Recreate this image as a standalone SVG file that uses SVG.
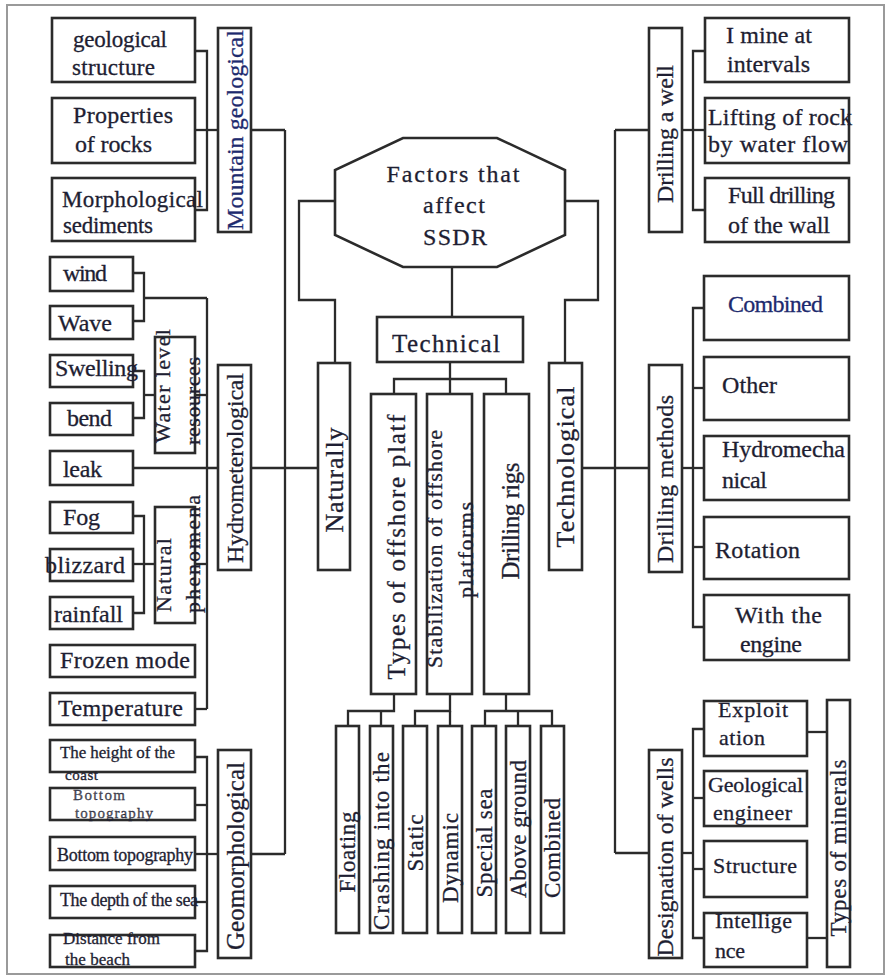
<svg xmlns="http://www.w3.org/2000/svg" width="890" height="979" viewBox="0 0 890 979">
<style>
  .frame { fill: #ffffff; stroke: #9a9a9a; stroke-width: 2; }
  .box { fill: #ffffff; stroke: #2b2b2b; stroke-width: 2.6; }
  .oct { fill: #ffffff; stroke: #2b2b2b; stroke-width: 2.6; }
  .ln { fill: none; stroke: #2b2b2b; stroke-width: 2.3; }
  text { font-family: "Liberation Serif", "Times New Roman", serif; fill: #1e1e32; stroke: #1e1e32; stroke-width: 0.3; }
  .v { text-anchor: middle; dominant-baseline: central; }
  .blue { fill: #1d2a6e; stroke: #1d2a6e; }
</style>

<!-- page frame -->
<rect class="frame" x="7" y="5" width="877" height="969"/>

<!-- connectors -->
<g id="connectors">
  <!-- root to the three main branches -->
  <polyline class="ln" points="335,201 299,201 299,300 335,300 335,363"/>
  <polyline class="ln" points="565,201 598,201 598,300 565,300 565,363"/>
  <line class="ln" x1="452" y1="267" x2="452" y2="317"/>

  <!-- Naturally: left trunk -->
  <line class="ln" x1="285" y1="130" x2="285" y2="854"/>
  <line class="ln" x1="251" y1="130" x2="285" y2="130"/>
  <line class="ln" x1="251" y1="854" x2="285" y2="854"/>
  <line class="ln" x1="251" y1="468" x2="318" y2="468"/>
  <line class="ln" x1="133" y1="468" x2="218" y2="468"/>

  <!-- Mountain geological bracket -->
  <polyline class="ln" points="195,51 207,51 207,210 195,210"/>
  <line class="ln" x1="195" y1="130" x2="218" y2="130"/>

  <!-- Hydrometerological bracket -->
  <polyline class="ln" points="133,273 144,273 144,321 133,321"/>
  <line class="ln" x1="144" y1="298" x2="207" y2="298"/>
  <polyline class="ln" points="133,371 144,371 144,418 133,418"/>
  <line class="ln" x1="144" y1="395" x2="155" y2="395"/>
  <line class="ln" x1="195" y1="395" x2="207" y2="395"/>
  <polyline class="ln" points="133,516 144,516 144,613 133,613"/>
  <line class="ln" x1="133" y1="564" x2="155" y2="564"/>
  <line class="ln" x1="195" y1="564" x2="207" y2="564"/>
  <line class="ln" x1="207" y1="298" x2="207" y2="709"/>
  <line class="ln" x1="195" y1="709" x2="207" y2="709"/>

  <!-- Geomorphological bracket -->
  <polyline class="ln" points="195,757 207,757 207,951 195,951"/>
  <line class="ln" x1="195" y1="805" x2="207" y2="805"/>
  <line class="ln" x1="195" y1="854" x2="218" y2="854"/>
  <line class="ln" x1="195" y1="902" x2="207" y2="902"/>

  <!-- Technical subtree -->
  <line class="ln" x1="450" y1="362" x2="450" y2="379"/>
  <polyline class="ln" points="394,394 394,379 506,379 506,394"/>
  <line class="ln" x1="450" y1="379" x2="450" y2="394"/>
  <polyline class="ln" points="348,726 348,711 394,711 394,694"/>
  <line class="ln" x1="381" y1="711" x2="381" y2="726"/>
  <polyline class="ln" points="415,726 415,711 450,711 450,694"/>
  <line class="ln" x1="450" y1="711" x2="450" y2="726"/>
  <polyline class="ln" points="485,726 485,711 552,711 552,726"/>
  <line class="ln" x1="518" y1="711" x2="518" y2="726"/>
  <line class="ln" x1="506" y1="694" x2="506" y2="711"/>

  <!-- Technological: right trunk -->
  <line class="ln" x1="615" y1="130" x2="615" y2="853"/>
  <line class="ln" x1="615" y1="130" x2="649" y2="130"/>
  <line class="ln" x1="582" y1="468" x2="649" y2="468"/>
  <line class="ln" x1="615" y1="853" x2="649" y2="853"/>

  <!-- Drilling a well bracket -->
  <polyline class="ln" points="705,51 693,51 693,210 705,210"/>
  <line class="ln" x1="682" y1="130" x2="705" y2="130"/>

  <!-- Drilling methods bracket -->
  <polyline class="ln" points="704,308 693,308 693,627 704,627"/>
  <line class="ln" x1="693" y1="388" x2="704" y2="388"/>
  <line class="ln" x1="682" y1="468" x2="704" y2="468"/>
  <line class="ln" x1="693" y1="547" x2="704" y2="547"/>

  <!-- Designation of wells bracket -->
  <polyline class="ln" points="704,729 693,729 693,938 704,938"/>
  <line class="ln" x1="693" y1="798" x2="704" y2="798"/>
  <line class="ln" x1="693" y1="869" x2="704" y2="869"/>
  <line class="ln" x1="682" y1="853" x2="693" y2="853"/>
  <line class="ln" x1="807" y1="732" x2="827" y2="732"/>
  <line class="ln" x1="807" y1="938" x2="827" y2="938"/>
</g>

<!-- root -->
<g id="root">
  <polygon class="oct" points="403,138 497,138 565,170 565,235 497,267 403,267 335,235 335,170"/>
  <text font-size="24" x="453" y="182" text-anchor="middle" textLength="133" lengthAdjust="spacing">Factors that</text>
  <text font-size="24" x="454" y="213" text-anchor="middle" textLength="62" lengthAdjust="spacing">affect</text>
  <text font-size="24" x="455" y="245" text-anchor="middle" textLength="64" lengthAdjust="spacing">SSDR</text>
</g>

<!-- main branches -->
<g id="naturally">
  <rect class="box" x="318" y="363" width="32" height="207"/>
  <text font-size="26" class="v" transform="translate(334,480) rotate(-90)" textLength="105" lengthAdjust="spacing">Naturally</text>
</g>
<g id="technical">
  <rect class="box" x="377" y="317" width="146" height="45"/>
  <text font-size="25" x="392" y="352" textLength="108" lengthAdjust="spacing">Technical</text>
</g>
<g id="technological">
  <rect class="box" x="549" y="363" width="33" height="207"/>
  <text font-size="26" class="v" transform="translate(565,467) rotate(-90)" textLength="161" lengthAdjust="spacing">Technological</text>
</g>

<!-- Naturally: Mountain geological -->
<g id="mountain-geological">
  <rect class="box" x="218" y="28" width="33" height="204"/>
  <text font-size="24" class="v blue" transform="translate(235,130) rotate(-90)" textLength="200" lengthAdjust="spacing">Mountain geological</text>
</g>
<g id="geological-structure">
  <rect class="box" x="52" y="18" width="143" height="64"/>
  <text font-size="23" x="73" y="47" textLength="94" lengthAdjust="spacing">geological</text>
  <text font-size="23" x="72" y="75" textLength="83" lengthAdjust="spacing">structure</text>
</g>
<g id="properties-of-rocks">
  <rect class="box" x="52" y="98" width="143" height="65"/>
  <text font-size="24" x="73" y="123" textLength="100" lengthAdjust="spacing">Properties</text>
  <text font-size="24" x="75" y="152" textLength="77" lengthAdjust="spacing">of rocks</text>
</g>
<g id="morphological-sediments">
  <rect class="box" x="52" y="178" width="143" height="63"/>
  <text font-size="23" x="62" y="207" textLength="141" lengthAdjust="spacing">Morphological</text>
  <text font-size="23" x="63" y="233" textLength="90" lengthAdjust="spacing">sediments</text>
</g>

<!-- Naturally: Hydrometerological -->
<g id="hydrometerological">
  <rect class="box" x="218" y="365" width="33" height="205"/>
  <text font-size="24" class="v" transform="translate(235,468) rotate(-90)" textLength="190" lengthAdjust="spacing">Hydrometerological</text>
</g>
<g id="wind">
  <rect class="box" x="50" y="257" width="83" height="34"/>
  <text font-size="24" x="63" y="281" textLength="44" lengthAdjust="spacing">wind</text>
</g>
<g id="wave">
  <rect class="box" x="50" y="306" width="83" height="33"/>
  <text font-size="24" x="58" y="331" textLength="54" lengthAdjust="spacing">Wave</text>
</g>
<g id="swelling">
  <rect class="box" x="50" y="355" width="83" height="32"/>
  <text font-size="24" x="55" y="376" textLength="83" lengthAdjust="spacing">Swelling</text>
</g>
<g id="bend">
  <rect class="box" x="50" y="403" width="83" height="32"/>
  <text font-size="24" x="67" y="426" textLength="45" lengthAdjust="spacing">bend</text>
</g>
<g id="water-level-resources">
  <rect class="box" x="155" y="337" width="40" height="116"/>
  <text font-size="22" class="v" transform="translate(162,386) rotate(-90)" textLength="114" lengthAdjust="spacing">Water level</text>
  <text font-size="22" class="v" transform="translate(192,401) rotate(-90)" textLength="88" lengthAdjust="spacing">resources</text>
</g>
<g id="leak">
  <rect class="box" x="50" y="451" width="83" height="34"/>
  <text font-size="24" x="63" y="477" textLength="39" lengthAdjust="spacing">leak</text>
</g>
<g id="fog">
  <rect class="box" x="50" y="502" width="83" height="31"/>
  <text font-size="24" x="63" y="525" textLength="37" lengthAdjust="spacing">Fog</text>
</g>
<g id="blizzard">
  <rect class="box" x="50" y="549" width="83" height="32"/>
  <text font-size="24" x="45" y="573" textLength="80" lengthAdjust="spacing">blizzard</text>
</g>
<g id="rainfall">
  <rect class="box" x="50" y="597" width="83" height="32"/>
  <text font-size="24" x="54" y="622" textLength="69" lengthAdjust="spacing">rainfall</text>
</g>
<g id="natural-phenomena">
  <rect class="box" x="155" y="507" width="40" height="116"/>
  <text font-size="22" class="v" transform="translate(163,575) rotate(-90)" textLength="74" lengthAdjust="spacing">Natural</text>
  <text font-size="22" class="v" transform="translate(192,554) rotate(-90)" textLength="118" lengthAdjust="spacing">phenomena</text>
</g>
<g id="frozen-mode">
  <rect class="box" x="50" y="645" width="145" height="32"/>
  <text font-size="24" x="60" y="668" textLength="130" lengthAdjust="spacing">Frozen mode</text>
</g>
<g id="temperature">
  <rect class="box" x="50" y="693" width="145" height="32"/>
  <text font-size="24" x="58" y="716" textLength="125" lengthAdjust="spacing">Temperature</text>
</g>

<!-- Naturally: Geomorphological -->
<g id="geomorphological">
  <rect class="box" x="218" y="750" width="33" height="208"/>
  <text font-size="25" class="v" transform="translate(235,856) rotate(-90)" textLength="188" lengthAdjust="spacing">Geomorphological</text>
</g>
<g id="height-of-coast">
  <rect class="box" x="50" y="740" width="145" height="32"/>
  <text font-size="17" x="60" y="758" textLength="115" lengthAdjust="spacing">The height of the</text>
  <text font-size="15" x="65" y="780" textLength="33" lengthAdjust="spacing">coast</text>
</g>
<g id="bottom-topography-a">
  <rect class="box" x="50" y="788" width="145" height="32"/>
  <text font-size="15" x="73" y="800" textLength="52" lengthAdjust="spacing" fill-opacity="0.8">Bottom</text>
  <text font-size="15" x="75" y="818" textLength="78" lengthAdjust="spacing" fill-opacity="0.8">topography</text>
</g>
<g id="bottom-topography">
  <rect class="box" x="50" y="837" width="145" height="33"/>
  <text font-size="18" x="57" y="861" textLength="136" lengthAdjust="spacing">Bottom topography</text>
</g>
<g id="depth-of-sea">
  <rect class="box" x="50" y="886" width="145" height="32"/>
  <text font-size="18" x="60" y="906" textLength="138" lengthAdjust="spacing">The depth of the sea</text>
</g>
<g id="distance-from-beach">
  <rect class="box" x="50" y="935" width="145" height="32"/>
  <text font-size="17" x="63" y="944" textLength="97" lengthAdjust="spacing">Distance from</text>
  <text font-size="17" x="65" y="965" textLength="65" lengthAdjust="spacing">the beach</text>
</g>

<!-- Technical subtree -->
<g id="types-of-platforms">
  <rect class="box" x="371" y="394" width="45" height="300"/>
  <text font-size="25" class="v" transform="translate(396,547) rotate(-90)" textLength="265" lengthAdjust="spacing">Types of offshore platf</text>
</g>
<g id="stabilization">
  <rect class="box" x="427" y="394" width="45" height="300"/>
  <text font-size="22" class="v" transform="translate(434,549) rotate(-90)" textLength="238" lengthAdjust="spacing">Stabilization of offshore</text>
  <text font-size="22" class="v" transform="translate(465,550) rotate(-90)" textLength="96" lengthAdjust="spacing">platforms</text>
</g>
<g id="drilling-rigs">
  <rect class="box" x="484" y="394" width="45" height="300"/>
  <text font-size="25" class="v" transform="translate(510,521) rotate(-90)" textLength="117" lengthAdjust="spacing">Drilling rigs</text>
</g>
<g id="floating">
  <rect class="box" x="336" y="726" width="23" height="207"/>
  <text font-size="23" class="v" transform="translate(347,852) rotate(-90)" textLength="81" lengthAdjust="spacing">Floating</text>
</g>
<g id="crashing">
  <rect class="box" x="370" y="726" width="23" height="207"/>
  <text font-size="23" class="v" transform="translate(381,841) rotate(-90)" textLength="178" lengthAdjust="spacing">Crashing into the</text>
</g>
<g id="static">
  <rect class="box" x="403" y="726" width="24" height="207"/>
  <text font-size="23" class="v" transform="translate(415,843) rotate(-90)" textLength="57" lengthAdjust="spacing">Static</text>
</g>
<g id="dynamic">
  <rect class="box" x="438" y="726" width="24" height="207"/>
  <text font-size="23" class="v" transform="translate(450,858) rotate(-90)" textLength="90" lengthAdjust="spacing">Dynamic</text>
</g>
<g id="special-sea">
  <rect class="box" x="472" y="726" width="24" height="207"/>
  <text font-size="23" class="v" transform="translate(484,843) rotate(-90)" textLength="109" lengthAdjust="spacing">Special sea</text>
</g>
<g id="above-ground">
  <rect class="box" x="506" y="726" width="24" height="207"/>
  <text font-size="23" class="v" transform="translate(518,829) rotate(-90)" textLength="138" lengthAdjust="spacing">Above ground</text>
</g>
<g id="combined-rig">
  <rect class="box" x="541" y="726" width="23" height="207"/>
  <text font-size="23" class="v" transform="translate(552,848) rotate(-90)" textLength="100" lengthAdjust="spacing">Combined</text>
</g>

<!-- Technological: Drilling a well -->
<g id="drilling-a-well">
  <rect class="box" x="649" y="28" width="33" height="204"/>
  <text font-size="24" class="v" transform="translate(665,134) rotate(-90)" textLength="138" lengthAdjust="spacing">Drilling a well</text>
</g>
<g id="mine-at-intervals">
  <rect class="box" x="705" y="18" width="144" height="64"/>
  <text font-size="24" x="726" y="43" textLength="86" lengthAdjust="spacing">I mine at</text>
  <text font-size="24" x="727" y="72" textLength="83" lengthAdjust="spacing">intervals</text>
</g>
<g id="lifting-of-rock">
  <rect class="box" x="705" y="98" width="144" height="65"/>
  <text font-size="24" x="708" y="125" textLength="144" lengthAdjust="spacing">Lifting of rock</text>
  <text font-size="24" x="708" y="152" textLength="140" lengthAdjust="spacing">by water flow</text>
</g>
<g id="full-drilling">
  <rect class="box" x="705" y="178" width="144" height="64"/>
  <text font-size="24" x="728" y="203" textLength="107" lengthAdjust="spacing">Full drilling</text>
  <text font-size="24" x="728" y="233" textLength="102" lengthAdjust="spacing">of the wall</text>
</g>

<!-- Technological: Drilling methods -->
<g id="drilling-methods">
  <rect class="box" x="649" y="365" width="33" height="207"/>
  <text font-size="24" class="v" transform="translate(665,479) rotate(-90)" textLength="168" lengthAdjust="spacing">Drilling methods</text>
</g>
<g id="combined-method">
  <rect class="box" x="704" y="276" width="145" height="64"/>
  <text font-size="24" class="blue" x="728" y="312" textLength="95" lengthAdjust="spacing">Combined</text>
</g>
<g id="other">
  <rect class="box" x="704" y="357" width="145" height="63"/>
  <text font-size="24" x="722" y="393" textLength="55" lengthAdjust="spacing">Other</text>
</g>
<g id="hydromechanical">
  <rect class="box" x="704" y="436" width="145" height="64"/>
  <text font-size="24" x="722" y="457" textLength="123" lengthAdjust="spacing">Hydromecha</text>
  <text font-size="24" x="722" y="488" textLength="45" lengthAdjust="spacing">nical</text>
</g>
<g id="rotation">
  <rect class="box" x="704" y="517" width="145" height="62"/>
  <text font-size="24" x="715" y="558" textLength="85" lengthAdjust="spacing">Rotation</text>
</g>
<g id="with-the-engine">
  <rect class="box" x="704" y="595" width="145" height="65"/>
  <text font-size="24" x="735" y="623" textLength="87" lengthAdjust="spacing">With the</text>
  <text font-size="24" x="740" y="652" textLength="62" lengthAdjust="spacing">engine</text>
</g>

<!-- Technological: Designation of wells -->
<g id="designation-of-wells">
  <rect class="box" x="649" y="750" width="33" height="208"/>
  <text font-size="24" class="v" transform="translate(665,857) rotate(-90)" textLength="199" lengthAdjust="spacing">Designation of wells</text>
</g>
<g id="exploitation">
  <rect class="box" x="704" y="701" width="103" height="55"/>
  <text font-size="22" x="718" y="717" textLength="70" lengthAdjust="spacing">Exploit</text>
  <text font-size="22" x="719" y="745" textLength="46" lengthAdjust="spacing">ation</text>
</g>
<g id="geological-engineer">
  <rect class="box" x="704" y="771" width="103" height="55"/>
  <text font-size="22" x="708" y="792" textLength="95" lengthAdjust="spacing">Geological</text>
  <text font-size="22" x="713" y="820" textLength="79" lengthAdjust="spacing">engineer</text>
</g>
<g id="structure">
  <rect class="box" x="704" y="841" width="103" height="56"/>
  <text font-size="22" x="713" y="873" textLength="84" lengthAdjust="spacing">Structure</text>
</g>
<g id="intelligence">
  <rect class="box" x="704" y="913" width="103" height="54"/>
  <text font-size="22" x="715" y="928" textLength="77" lengthAdjust="spacing">Intellige</text>
  <text font-size="22" x="715" y="958" textLength="30" lengthAdjust="spacing">nce</text>
</g>
<g id="types-of-minerals">
  <rect class="box" x="827" y="700" width="23" height="267"/>
  <text font-size="23" class="v" transform="translate(838,848) rotate(-90)" textLength="177" lengthAdjust="spacing">Types of minerals</text>
</g>
</svg>
